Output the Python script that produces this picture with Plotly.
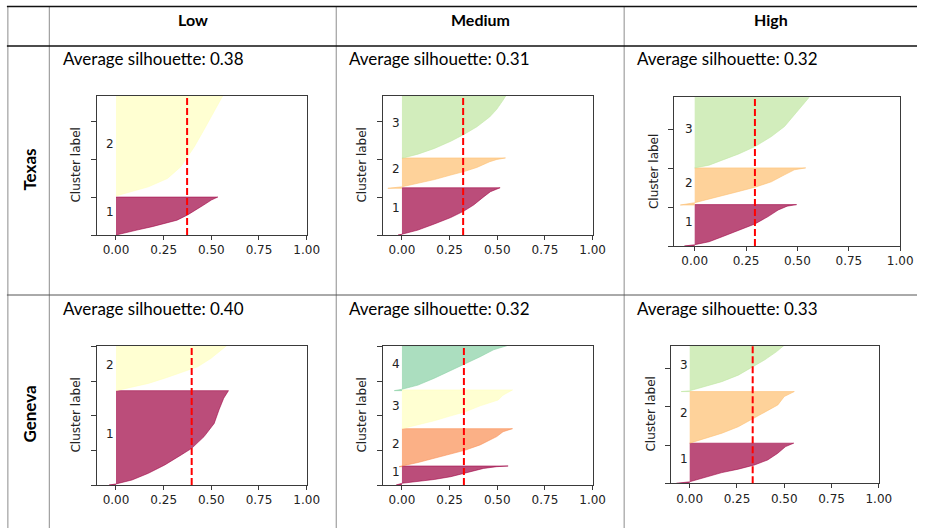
import math
import plotly.graph_objects as go

W, H = 930, 528

# ---------------- data ----------------
row_names = ["Texas", "Geneva"]
col_names = ["Low", "Medium", "High"]
avg_label = [[0.38, 0.31, 0.32], [0.40, 0.32, 0.33]]   # printed average silhouette
avg_line = [[0.373, 0.321, 0.293], [0.397, 0.325, 0.333]]  # dashed line position
y_top = [[3.67, 3.67, 3.845], [4.03, 4.03, 3.60]]

# Texas / Low
tx_low_pos = [
    [0.0, 0.04, 0.13, 0.22, 0.31, 0.39, 0.53, 0.66, 0.79, 0.92, 1.0],
    [1.03, 1.10, 1.27, 1.49, 1.80, 2.02, 2.32, 2.76, 3.20, 3.64, 3.67],
]
tx_low_sil = [
    [0.0, 0.04, 0.11, 0.19, 0.26, 0.32, 0.376, 0.42, 0.46, 0.50, 0.534],
    [0.0, 0.05, 0.17, 0.27, 0.34, 0.37, 0.41, 0.46, 0.51, 0.557, 0.56],
]
tx_low_lab = [0.60, 2.41]

# Texas / Medium
tx_med_pos = [
    [0.0, 0.02, 0.13, 0.29, 0.46, 0.63, 0.79, 1.01, 1.14, 1.245],
    [1.23, 1.27, 1.36, 1.46, 1.58, 1.67, 1.78, 1.93, 1.99, 2.03],
    [2.02, 2.13, 2.28, 2.47, 2.65, 2.85, 3.11, 3.31, 3.55, 3.67],
]
tx_med_sil = [
    [-0.02, 0.0, 0.084, 0.17, 0.256, 0.325, 0.376, 0.43, 0.464, 0.515],
    [-0.074, 0.0, 0.084, 0.17, 0.256, 0.325, 0.393, 0.46, 0.498, 0.543],
    [0.0, 0.084, 0.17, 0.256, 0.325, 0.393, 0.46, 0.497, 0.53, 0.545],
]
tx_med_lab = [0.72, 1.73, 2.94]

# Texas / High
tx_high_pos = [
    [0.0, 0.034, 0.11, 0.24, 0.40, 0.57, 0.76, 0.93, 1.03, 1.07],
    [1.06, 1.12, 1.21, 1.29, 1.41, 1.52, 1.66, 1.84, 1.97, 2.02],
    [2.02, 2.09, 2.22, 2.38, 2.57, 2.83, 3.09, 3.39, 3.65, 3.845],
]
tx_high_sil = [
    [-0.05, 0.0, 0.07, 0.134, 0.214, 0.293, 0.357, 0.406, 0.45, 0.496],
    [-0.07, 0.0, 0.07, 0.134, 0.214, 0.293, 0.373, 0.437, 0.485, 0.54],
    [0.0, 0.07, 0.134, 0.214, 0.293, 0.373, 0.437, 0.485, 0.525, 0.557],
]
tx_high_lab = [0.63, 1.64, 3.02]

# Geneva / Low
ge_low_pos = [
    [0.0, 0.03, 0.145, 0.34, 0.58, 0.87, 1.06, 1.40, 1.78, 2.17, 2.51, 2.73],
    [2.73, 2.83, 2.94, 3.09, 3.25, 3.42, 3.66, 3.91, 4.03],
]
ge_low_sil = [
    [-0.036, 0.0, 0.084, 0.17, 0.256, 0.342, 0.397, 0.462, 0.515, 0.54, 0.565, 0.59],
    [0.0, 0.084, 0.17, 0.256, 0.342, 0.428, 0.497, 0.55, 0.58],
]
ge_low_lab = [1.47, 3.47]

# Geneva / Medium
ge_med_pos = [
    [0.0, 0.05, 0.10, 0.16, 0.24, 0.36, 0.48, 0.53, 0.55],
    [0.53, 0.55, 0.65, 0.77, 0.90, 1.01, 1.16, 1.40, 1.54, 1.63],
    [1.63, 1.74, 1.86, 2.00, 2.12, 2.29, 2.46, 2.60, 2.75],
    [2.73, 2.77, 2.89, 3.09, 3.31, 3.52, 3.71, 3.91, 4.03],
]
ge_med_sil = [
    [-0.03, 0.0, 0.084, 0.17, 0.256, 0.342, 0.428, 0.497, 0.557],
    [-0.015, 0.0, 0.084, 0.17, 0.256, 0.333, 0.41, 0.497, 0.53, 0.58],
    [0.0, 0.084, 0.17, 0.256, 0.333, 0.41, 0.505, 0.53, 0.58],
    [-0.04, 0.0, 0.084, 0.17, 0.256, 0.33, 0.41, 0.48, 0.55],
]
ge_med_lab = [0.37, 1.19, 2.30, 3.49]

# Geneva / High
ge_high_pos = [
    [0.0, 0.04, 0.17, 0.28, 0.37, 0.48, 0.61, 0.78, 0.96, 1.05],
    [1.05, 1.18, 1.31, 1.48, 1.70, 1.92, 2.05, 2.27, 2.40],
    [2.40, 2.42, 2.53, 2.66, 2.83, 3.05, 3.23, 3.44, 3.60],
]
ge_high_sil = [
    [-0.07, 0.0, 0.085, 0.17, 0.257, 0.343, 0.412, 0.464, 0.507, 0.55],
    [0.0, 0.085, 0.17, 0.257, 0.336, 0.414, 0.466, 0.50, 0.553],
    [-0.045, 0.0, 0.085, 0.17, 0.257, 0.336, 0.397, 0.458, 0.497],
]
ge_high_lab = [0.64, 1.83, 3.10]

x_ticks = [0.0, 0.25, 0.5, 0.75, 1.0]

panels = [
    (tx_low_pos, tx_low_sil, tx_low_lab),
    (tx_med_pos, tx_med_sil, tx_med_lab),
    (tx_high_pos, tx_high_sil, tx_high_lab),
    (ge_low_pos, ge_low_sil, ge_low_lab),
    (ge_med_pos, ge_med_sil, ge_med_lab),
    (ge_high_pos, ge_high_sil, ge_high_lab),
]

# ---------------- layout (pixels) ----------------
boxes = [  # left, right, top, bottom
    (98.3, 311.0, 95.7, 235.0),
    (388.3, 601.0, 95.7, 235.0),
    (683.7, 913.0, 97.3, 246.0),
    (98.3, 311.0, 345.7, 485.0),
    (388.3, 601.0, 345.7, 485.0),
    (680.3, 891.3, 345.7, 483.3),
]

SPECTRAL = [
    (0.619608, 0.003922, 0.258824), (0.835294, 0.243137, 0.309804),
    (0.956863, 0.427451, 0.262745), (0.992157, 0.682353, 0.380392),
    (0.996078, 0.878431, 0.545098), (1.0, 1.0, 0.749020),
    (0.901961, 0.960784, 0.596078), (0.670588, 0.866667, 0.643137),
    (0.4, 0.760784, 0.647059), (0.196078, 0.533333, 0.741176),
    (0.368627, 0.309804, 0.635294),
]


def spectral(t, alpha):
    p = t * 10
    i = min(int(math.floor(p)), 9)
    f = p - i
    c = [SPECTRAL[i][k] + (SPECTRAL[i + 1][k] - SPECTRAL[i][k]) * f for k in range(3)]
    return "rgba(%d,%d,%d,%.2f)" % (round(c[0] * 255), round(c[1] * 255), round(c[2] * 255), alpha)


fig = go.Figure()
shapes = []
annotations = []
layout_axes = {}

TXT = "#222222"
AX = "#3a3a3a"

for k, (pos, sil, labs) in enumerate(panels):
    r, c = divmod(k, 3)
    L, R, T, B = boxes[k]
    xa = "x" if k == 0 else "x%d" % (k + 1)
    ya = "y" if k == 0 else "y%d" % (k + 1)
    xname = "xaxis" if k == 0 else "xaxis%d" % (k + 1)
    yname = "yaxis" if k == 0 else "yaxis%d" % (k + 1)
    n = len(pos)
    for i in range(n):
        col_f = spectral(i / n, 0.7)
        xs = [0.0] + sil[i] + [0.0]
        ys = [pos[i][0]] + pos[i] + [pos[i][-1]]
        fig.add_trace(go.Scatter(
            x=xs, y=ys, xaxis=xa, yaxis=ya, mode="lines", fill="toself",
            fillcolor=col_f, line=dict(color=col_f, width=0.8),
            hoverinfo="skip", showlegend=False,
        ))
        annotations.append(dict(
            x=-0.03, y=labs[i], xref=xa, yref=ya, text=str(i + 1), showarrow=False,
            font=dict(family="DejaVu Sans", size=12, color=TXT), xanchor="center", yanchor="middle",
        ))
    ymax = y_top[r][c]
    layout_axes[xname] = dict(
        domain=[L / W, R / W], anchor=ya, range=[-0.1, 1.0], tickvals=x_ticks,
        tickformat=".2f", showline=True, mirror=True, linecolor=AX, linewidth=1,
        ticks="outside", ticklen=4, tickcolor=AX, showgrid=False, zeroline=False,
        tickfont=dict(family="DejaVu Sans", size=12, color=TXT), fixedrange=True,
    )
    layout_axes[yname] = dict(
        domain=[1 - B / H, 1 - T / H], anchor=xa, range=[0, ymax],
        tickvals=[v for v in range(0, 5) if v <= ymax + 0.01], showticklabels=False,
        showline=True, mirror=True, linecolor=AX, linewidth=1,
        ticks="outside", ticklen=5, tickcolor=AX, showgrid=False, zeroline=False, fixedrange=True,
    )
    # average silhouette dashed line
    shapes.append(dict(
        type="line", xref=xa, yref=ya + " domain", x0=avg_line[r][c], x1=avg_line[r][c],
        y0=0, y1=1, line=dict(color="red", width=2, dash="7px,3px"),
    ))
    # y-title
    annotations.append(dict(
        x=(L - 21) / W, y=1 - (T + B) / 2 / H, xref="paper", yref="paper", text="Cluster label",
        textangle=-90, showarrow=False, xanchor="center", yanchor="middle",
        font=dict(family="DejaVu Sans", size=12, color=TXT),
    ))

# ---------------- table frame ----------------
col_x = [8, 50, 341, 633]
for x in col_x:
    shapes.append(dict(type="line", xref="paper", yref="paper", x0=x / W, x1=x / W,
                       y0=1 - 7 / H, y1=0, line=dict(color="#8c8c8c", width=1)))
shapes.append(dict(type="line", xref="paper", yref="paper", x0=7 / W, x1=1,
                   y0=1 - 6.5 / H, y1=1 - 6.5 / H, line=dict(color="#111111", width=1.5)))
shapes.append(dict(type="line", xref="paper", yref="paper", x0=7 / W, x1=1,
                   y0=1 - 46 / H, y1=1 - 46 / H, line=dict(color="#111111", width=1.5)))
shapes.append(dict(type="line", xref="paper", yref="paper", x0=7 / W, x1=1,
                   y0=1 - 295 / H, y1=1 - 295 / H, line=dict(color="#555555", width=1)))

col_centers = [195.5, 487, 781.5]
for c, name in enumerate(col_names):
    annotations.append(dict(
        x=col_centers[c] / W, y=1 - 20 / H, xref="paper", yref="paper", text="<b>%s</b>" % name,
        showarrow=False, xanchor="center", yanchor="middle",
        font=dict(family="Lato", size=16, color="#000000"),
    ))

row_centers = [170, 414]
for r, name in enumerate(row_names):
    annotations.append(dict(
        x=29 / W, y=1 - row_centers[r] / H, xref="paper", yref="paper", text="<b>%s</b>" % name,
        textangle=-90, showarrow=False, xanchor="center", yanchor="middle",
        font=dict(family="Lato", size=17, color="#000000"),
    ))

avg_x = [62, 352, 644]
avg_y = [58, 308]
for r in range(2):
    for c in range(3):
        annotations.append(dict(
            x=avg_x[c] / W, y=1 - avg_y[r] / H, xref="paper", yref="paper",
            text="Average silhouette: %.2f" % avg_label[r][c], showarrow=False,
            xanchor="left", yanchor="middle",
            font=dict(family="Lato", size=17, color="#000000"),
        ))

fig.update_layout(
    width=W, height=H, margin=dict(l=0, r=0, t=0, b=0),
    paper_bgcolor="white", plot_bgcolor="white",
    shapes=shapes, annotations=annotations, showlegend=False, **layout_axes,
)

fig.write_html("out.html", config={"displayModeBar": False})
